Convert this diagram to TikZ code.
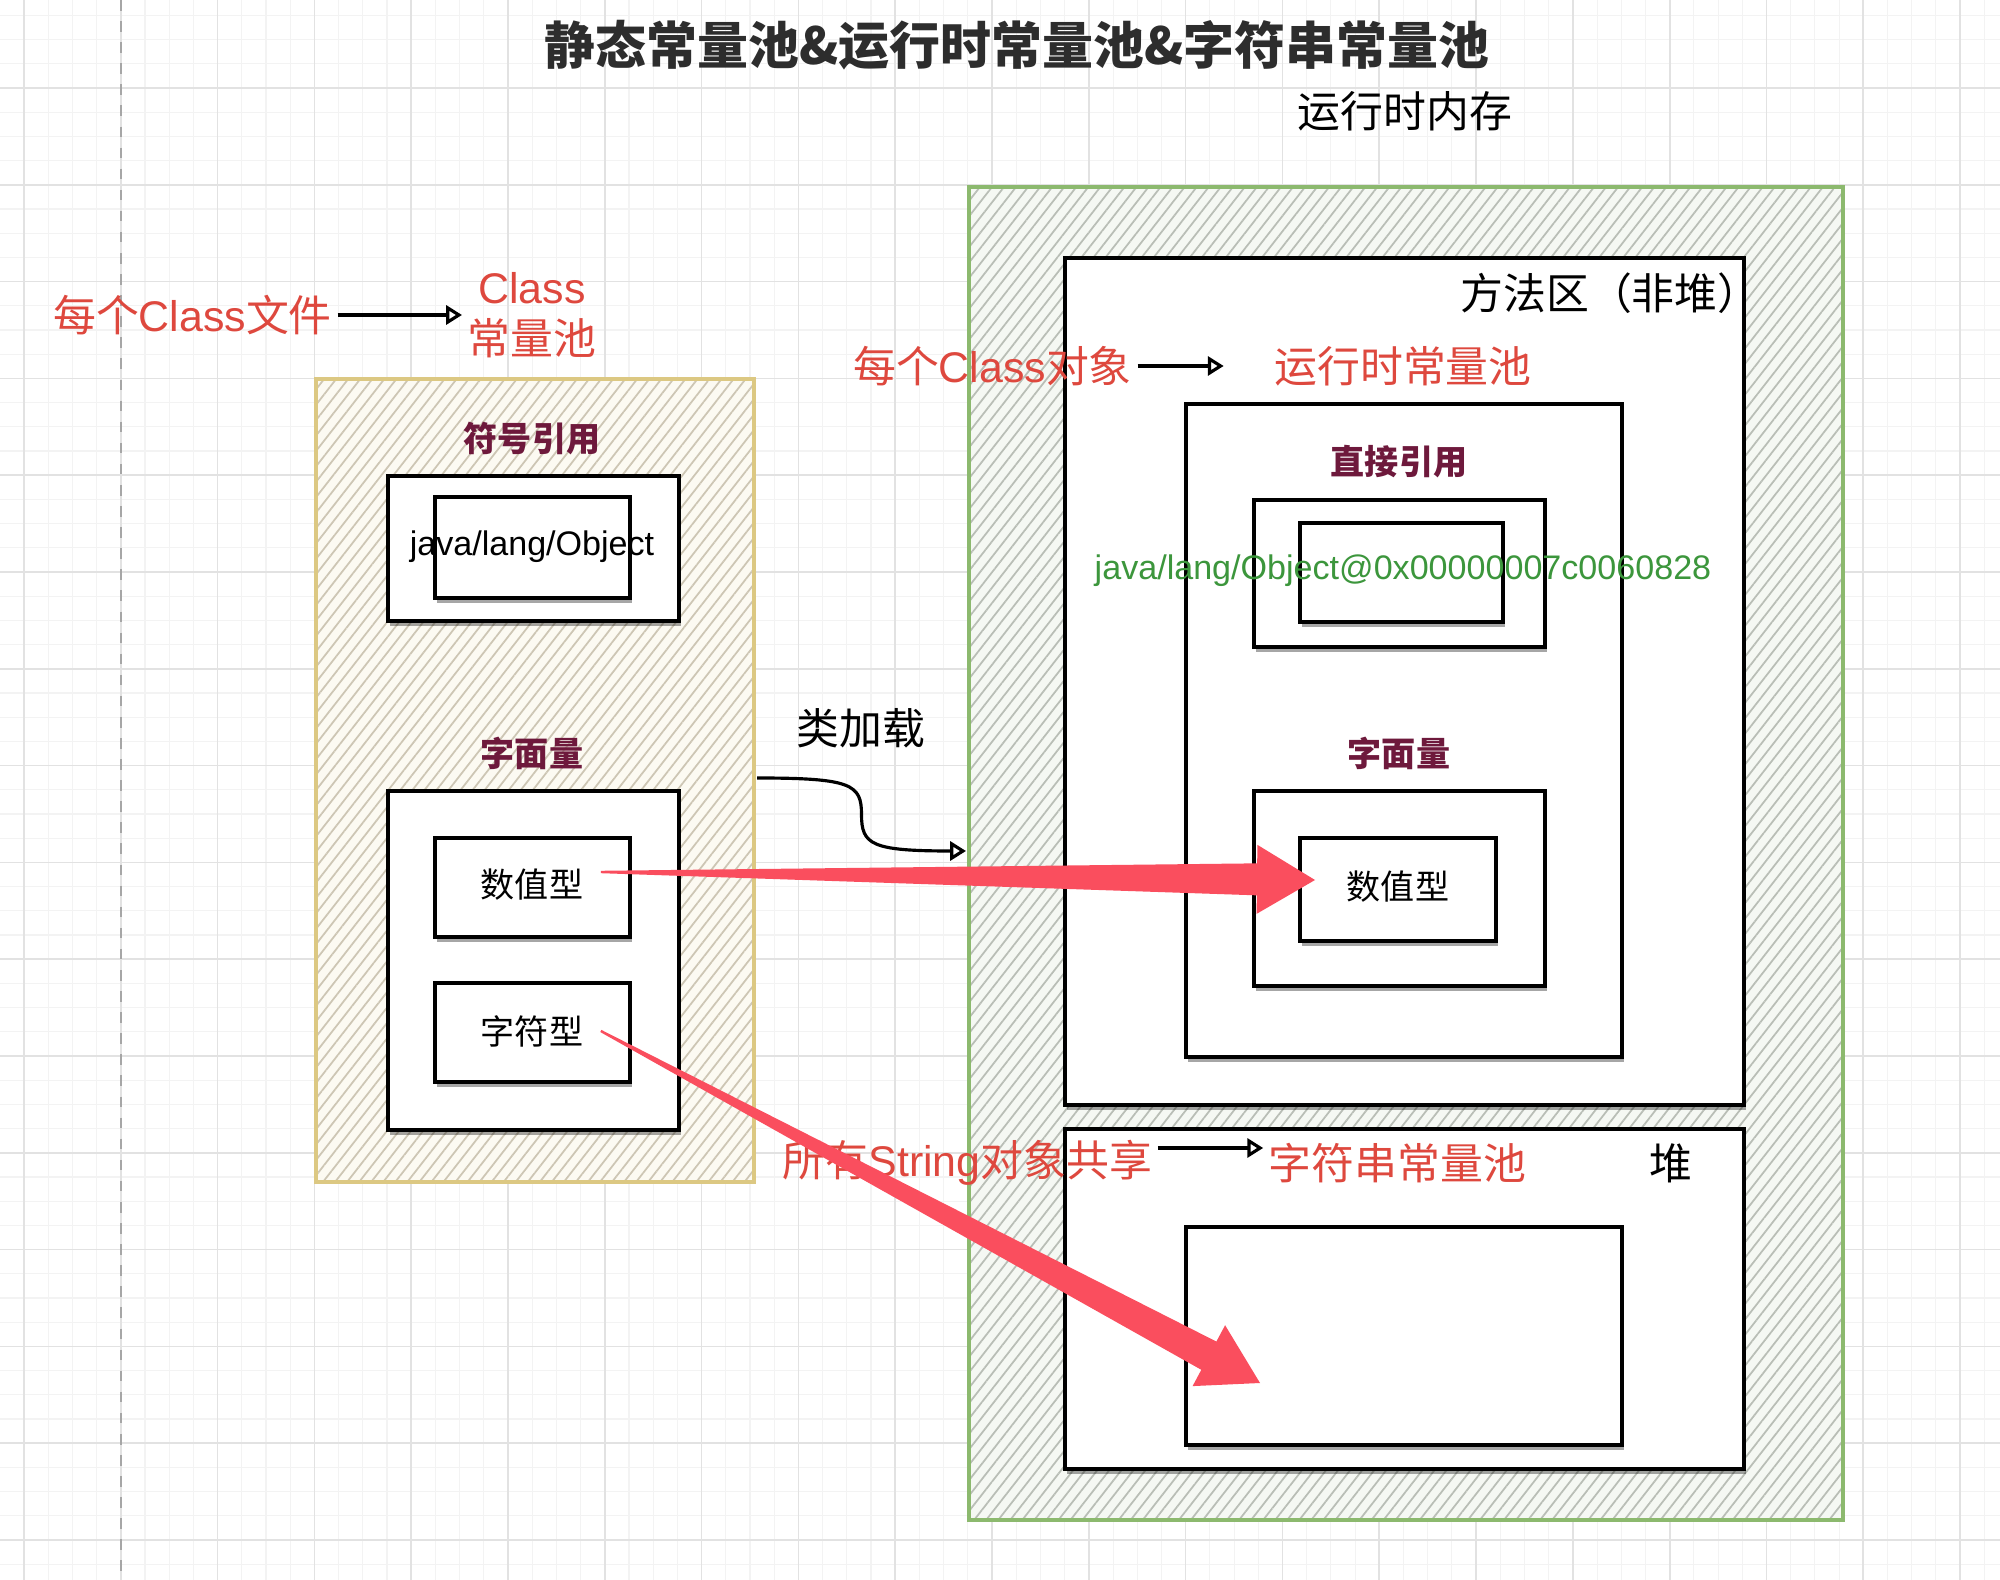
\documentclass[tikz,border=0pt]{standalone}
\usepackage{fontspec}
\setmainfont{Liberation Sans}
\newfontfamily\cjk{Noto Sans CJK SC}
\usetikzlibrary{calc, arrows.meta, patterns.meta, shadows}
\definecolor{gridmaj}{RGB}{226, 226, 226}
\definecolor{gridmin}{RGB}{243, 243, 243}
\definecolor{redtext}{RGB}{222, 72, 62}
\definecolor{maroon}{RGB}{110, 25, 60}
\definecolor{greentext}{RGB}{60, 150, 60}
\definecolor{titlegray}{RGB}{45, 45, 45}
\definecolor{fatred}{RGB}{250, 78, 94}
\definecolor{yellowbg}{RGB}{252, 250, 242}
\definecolor{yellowline}{RGB}{220, 200, 130}
\definecolor{yellowhatch}{RGB}{205, 198, 180}
\definecolor{greenbg}{RGB}{245, 248, 243}
\definecolor{greenline}{RGB}{140, 185, 110}
\definecolor{greenhatch}{RGB}{185, 190, 182}
\tikzset{>=latex}
% thick red pointer: start, tip
\newcommand{\fatarrow}[2]{%
  \coordinate (fatbase) at ($(#2)!0.58cm!(#1)$);
  \fill[fatred] ($(#1)!0.012cm!90:(#2)$) -- ($(fatbase)!0.16cm!90:(#2)$)
    -- ($(fatbase)!0.345cm!90:(#2)$) -- (#2) -- ($(fatbase)!0.345cm!-90:(#2)$)
    -- ($(fatbase)!0.16cm!-90:(#2)$) -- ($(#1)!0.012cm!-90:(#2)$) -- cycle;
}

\begin{document}
\begin{tikzpicture}[x=1cm, y=-1cm,
  gridminor/.style={gridmin, line width=0.3pt},
  gridmajor/.style={gridmaj, line width=0.5pt},
  pagebreak/.style={black!35, dashed, line width=0.5pt},
  txt/.style={inner sep=0.05cm, font=\fontsize{12.2}{14.5}\selectfont},
  redtxt/.style={txt, text=redtext},
  smalltxt/.style={inner sep=0.05cm, font=\fontsize{9.7}{11}\selectfont},
  headtxt/.style={inner sep=0.05cm, text=maroon, font=\fontsize{9.7}{11}\selectfont\cjk\bfseries},
  titletxt/.style={inner sep=0.05cm, text=titlegray, font=\fontsize{14.5}{16}\selectfont\cjk\bfseries},
  sketchbox/.style={draw=black, line width=0.9pt, fill=white,
    drop shadow={shadow xshift=0.5pt, shadow yshift=-1.3pt, opacity=0.35, fill=black}},
  yellowpool/.style={draw=yellowline, line width=1pt, preaction={fill=yellowbg},
    pattern={Lines[angle=52, distance=2.7pt, line width=0.5pt]}, pattern color=yellowhatch},
  greenpool/.style={draw=greenline, line width=1pt, preaction={fill=greenbg},
    pattern={Lines[angle=52, distance=2.7pt, line width=0.5pt]}, pattern color=greenhatch},
  openarrow/.style={-{Triangle[open, length=4.5pt, width=5.4pt]}, line width=0.9pt}]
\useasboundingbox (0,0) rectangle (20,15.8);
\fill[white] (0,0) rectangle (20,15.8);

% background grid
\foreach \j in {-1,...,81} \draw[gridminor] ({0.24+0.242*\j},0) -- ({0.24+0.242*\j},15.8);
\foreach \j in {-3,...,61} \draw[gridminor] (0,{0.88+0.242*\j}) -- (20,{0.88+0.242*\j});
\foreach \k in {0,...,20} \draw[gridmajor] ({0.24+0.968*\k},0) -- ({0.24+0.968*\k},15.8);
\foreach \k in {-1,...,15} \draw[gridmajor] (0,{0.88+0.968*\k}) -- (20,{0.88+0.968*\k});
\draw[pagebreak] (1.208,0) -- (1.208,15.8);

% class file side
\draw[yellowpool] (3.16,3.79) rectangle (7.54,11.82);
\draw[sketchbox] (3.88,4.76) rectangle (6.79,6.21);
\draw[sketchbox] (4.35,4.97) rectangle (6.30,5.98);
\draw[sketchbox] (3.88,7.91) rectangle (6.79,11.30);
\draw[sketchbox] (4.35,8.38) rectangle (6.30,9.37);
\draw[sketchbox] (4.35,9.83) rectangle (6.30,10.82);

% runtime memory side
\draw[greenpool] (9.69,1.87) rectangle (18.43,15.20);
\draw[sketchbox] (10.65,2.58) rectangle (17.44,11.05);
\draw[sketchbox] (11.86,4.04) rectangle (16.22,10.57);
\draw[sketchbox] (12.54,5.00) rectangle (15.45,6.47);
\draw[sketchbox] (13.00,5.23) rectangle (15.03,6.22);
\draw[sketchbox] (12.54,7.91) rectangle (15.45,9.86);
\draw[sketchbox] (13.00,8.38) rectangle (14.96,9.41);
\draw[sketchbox] (10.65,11.29) rectangle (17.44,14.69);
\draw[sketchbox] (11.86,12.27) rectangle (16.22,14.45);

% texts
\node[titletxt] (title) at (10.17,0.45) {静态常量池\&运行时常量池\&字符串常量池};
\node[txt] (memory) at (14.05,1.11) {\cjk 运行时内存};
\node[redtxt] (classfile) at (1.925,3.15) {{\cjk 每个}Class{\cjk 文件}};
\node[redtxt, align=center] (classpool) at (5.32,3.155) {Class\\{\cjk 常量池}};
\node[txt] (method) at (16.105,2.93) {\cjk 方法区（非堆）};
\node[redtxt] (classobj) at (9.925,3.66) {{\cjk 每个}Class{\cjk 对象}};
\node[redtxt] (rtpool) at (14.03,3.66) {\cjk 运行时常量池};
\node[headtxt] (symref) at (5.32,4.39) {符号引用};
\node[smalltxt] (javaL) at (5.32,5.47) {java/lang/Object};
\node[headtxt] (litL) at (5.32,7.53) {字面量};
\node[smalltxt] (numL) at (5.32,8.85) {\cjk 数值型};
\node[smalltxt] (charL) at (5.32,10.31) {\cjk 字符型};
\node[headtxt] (directref) at (13.99,4.62) {直接引用};
\node[smalltxt, text=greentext] (javaR) at (14.03,5.71) {java/lang/Object@0x00000007c0060828};
\node[headtxt] (litR) at (13.99,7.53) {字面量};
\node[smalltxt] (numR) at (13.98,8.87) {\cjk 数值型};
\node[txt] (loading) at (8.61,7.28) {\cjk 类加载};
\node[redtxt] (strshare) at (9.675,11.63) {{\cjk 所有}String{\cjk 对象共享}};
\node[redtxt] (strpool) at (13.975,11.63) {\cjk 字符串常量池};
\node[txt] (heap) at (16.71,11.63) {\cjk 堆};

% small arrows
\draw[openarrow] (classfile.east) -- (classfile.east -| classpool.west);
\draw[openarrow, shorten >=0.45cm] (classobj.east) -- (rtpool.west);
\draw[openarrow] ([yshift=0.15cm]strshare.east) -- ([yshift=0.15cm]strpool.west);

% class loading
\coordinate (loadfrom) at (7.57,7.78);
\coordinate (loadto) at (9.66,8.51);
\coordinate (loadmid) at ($(loadfrom)!0.5!(loadto)$);
\draw[openarrow] (loadfrom) .. controls +(0.95,0) and +(0,-0.3) .. (loadmid)
  .. controls +(0,0.3) and +(-0.95,0) .. (loadto);

% red pointers
\coordinate (numfrom) at ([shift={(0.12cm,0.13cm)}]numL.east);
\coordinate (numto) at (13.15,8.80);
\coordinate (strfrom) at ([xshift=0.12cm]charL.east);
\coordinate (strto) at (12.60,13.83);
\fatarrow{numfrom}{numto}
\fatarrow{strfrom}{strto}
\end{tikzpicture}
\end{document}
